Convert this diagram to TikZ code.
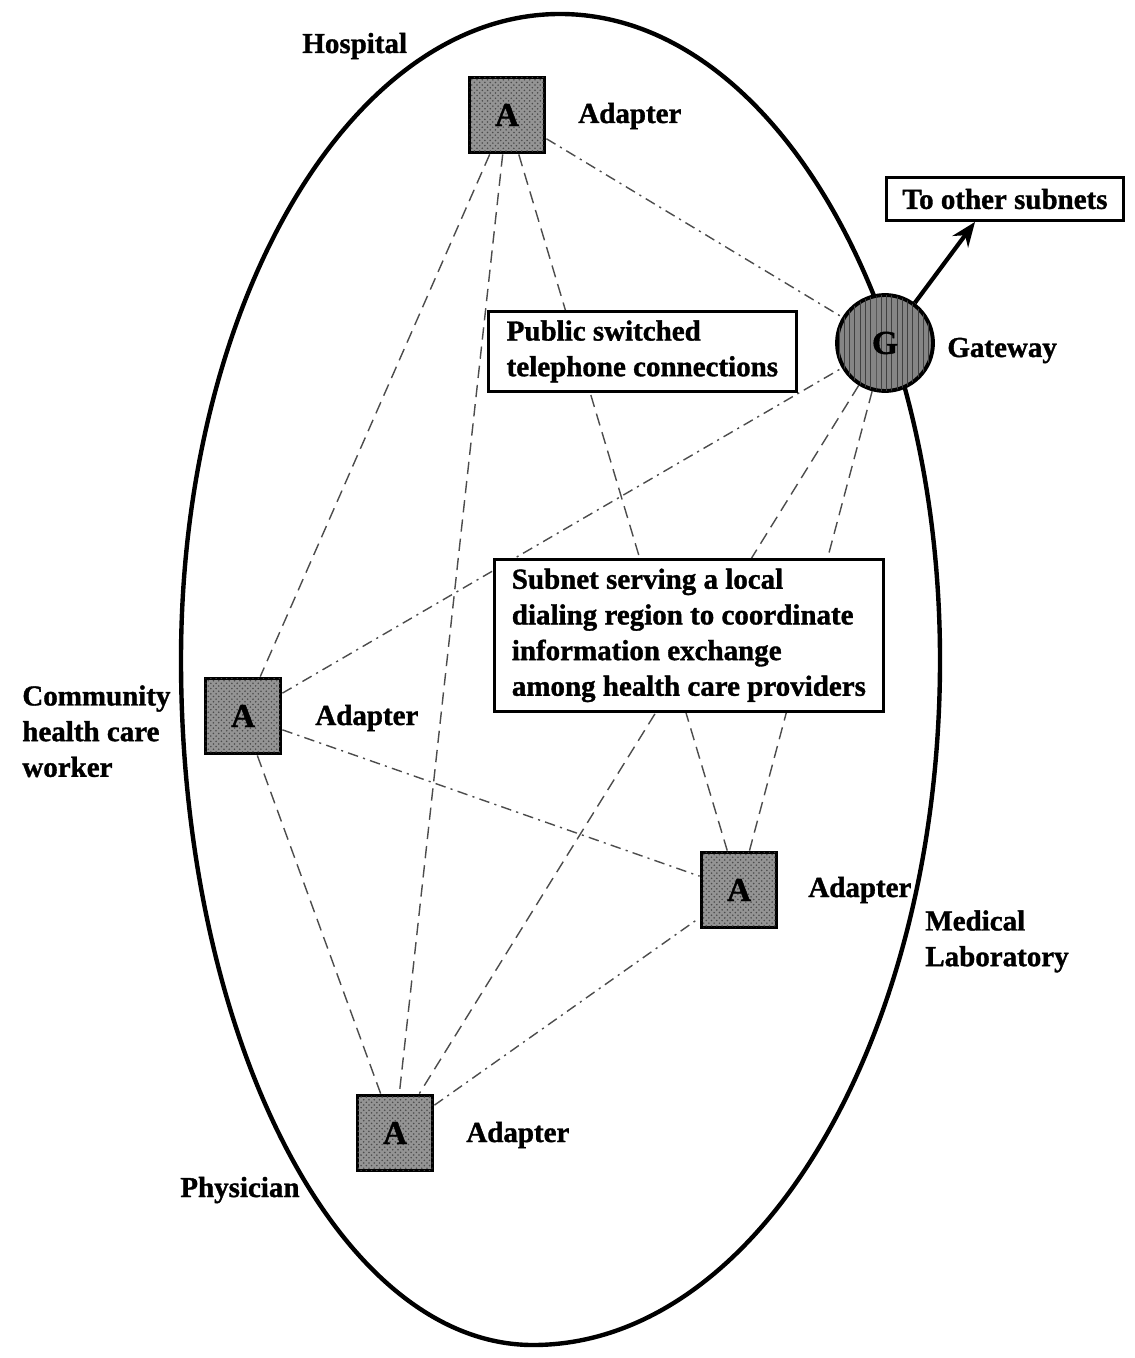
\documentclass[tikz,border=0pt]{standalone}
\usepackage{fontspec}
\setmainfont{Liberation Serif}[BoldFeatures={FakeBold=1.2}]
\usetikzlibrary{calc,arrows.meta,patterns}
\pgfdeclarelayer{background}
\pgfsetlayers{background,main}
\begin{document}
\begin{tikzpicture}[x=0.02cm,y=-0.02cm,
  every node/.style={font=\fontsize{16.5}{20.3}\selectfont\bfseries},
  tag/.style={anchor=base west, inner sep=0pt},
  tagblock/.style={anchor=north west, inner sep=0pt, align=left},
  adapter/.style={draw, line width=2.2pt, fill=black!42, minimum size=1.5cm,
    inner sep=0pt, font=\fontsize{19}{19}\selectfont\bfseries,
    postaction={pattern=crosshatch dots, pattern color=black!70}},
  gateway/.style={circle, draw, line width=2.2pt, fill=black!48, minimum size=1.92cm,
    inner sep=0pt, font=\fontsize{19}{19}\selectfont\bfseries,
    postaction={pattern=vertical lines, pattern color=black!75}},
  infobox/.style={draw, line width=1.6pt, fill=white, align=left,
    anchor=north west, inner sep=0pt},
  link/.style={line width=0.8pt, black!70, dash pattern=on 7pt off 4pt},
  linkdot/.style={line width=0.8pt, black!70, dash pattern=on 6pt off 3pt on 1.2pt off 3pt},
  ring/.style={line width=2.5pt},
  uplink/.style={line width=2.4pt, -{Stealth[length=14pt,width=11pt]}}
]
\useasboundingbox (0,0) rectangle (1134,1358);

% outline of the subnet region
\draw[ring] (560,14) .. controls (770,14) and (940,303) .. (940,660)
  .. controls (940,1038) and (758,1345) .. (533,1345)
  .. controls (339,1345) and (181,1038) .. (181,660)
  .. controls (181,303) and (351,14) .. (560,14) -- cycle;

% adapters and gateway
\node[adapter] (ta) at (507,115) {A};
\node[adapter] (la) at (243,716) {A};
\node[adapter] (ma) at (739,890) {A};
\node[adapter] (ba) at (395,1133) {A};
\node[gateway] (gw) at (885,343) {G};

% text boxes
\node[infobox, minimum width=6.16cm, minimum height=1.6cm]
  (pstn) at (487,310) {Public switched\\telephone connections};
\node[infobox, minimum width=7.78cm, minimum height=3.04cm]
  (subnet) at (493,558) {Subnet serving a local\\dialing region to coordinate\\information exchange\\among health care providers};
\node[draw, line width=1.6pt, fill=white, minimum width=4.74cm, minimum height=0.86cm,
  inner sep=0pt] (tos) at (1005,199) {To other subnets};

% link to the other subnets
\coordinate (tosin) at ($(tos.south west)!0.375!(tos.south east)$);
\draw[uplink] (gw) -- (tosin);

% labels
\node[tag] (lhosp) at (302,53) {Hospital};
\node[tag] (lta) at (578,123) {Adapter};
\node[tag] (lgw) at (947,357) {Gateway};
\node[tag] (lla) at (315,725) {Adapter};
\node[tagblock] (lcom) at (22,685) {Community\\health care\\worker};
\node[tag] (lma) at (808,897) {Adapter};
\node[tagblock] (llab) at (925,910) {Medical\\Laboratory};
\node[tag] (lba) at (466,1142) {Adapter};
\node[tag] (lphy) at (180,1197) {Physician};

% telephone connections (full mesh)
\begin{pgfonlayer}{background}
  \draw[link] (ta) -- (la);
  \draw[link] (ta) -- (ba);
  \draw[link] (ta) -- (ma);
  \draw[link] (la) -- (ba);
  \draw[link] (gw) -- (ma);
  \draw[link] (gw) -- (ba);
  \draw[linkdot] (ta) -- (gw);
  \draw[linkdot] (la) -- (gw);
  \draw[linkdot] (la) -- (ma);
  \draw[linkdot] (ba) -- (ma);
\end{pgfonlayer}
\end{tikzpicture}
\end{document}
